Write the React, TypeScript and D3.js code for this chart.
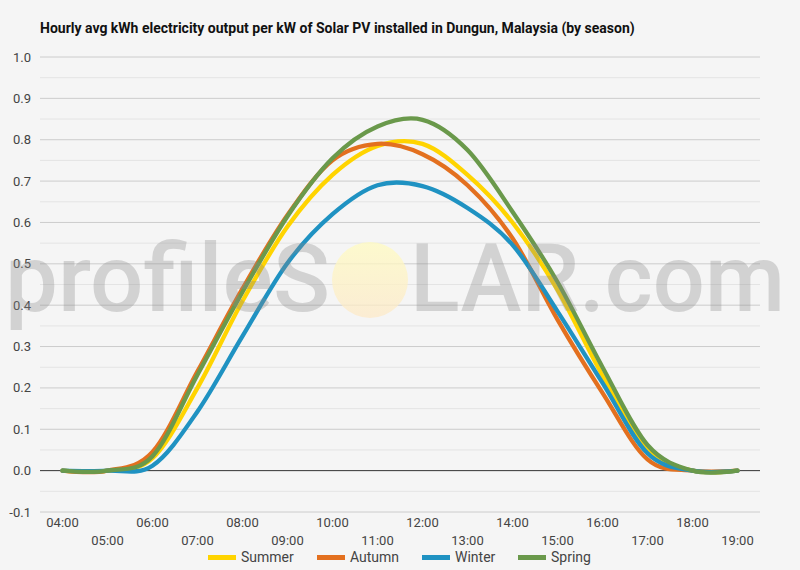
import React from "react";
import * as d3 from "d3";

const hours = ["04:00","05:00","06:00","07:00","08:00","09:00","10:00","11:00","12:00","13:00","14:00","15:00","16:00","17:00","18:00","19:00"];
const summer = [0, 0, 0.03, 0.2, 0.41, 0.59, 0.715, 0.785, 0.79, 0.715, 0.6, 0.437, 0.23, 0.052, 0, 0];
const autumn = [0, 0, 0.045, 0.24, 0.44, 0.618, 0.75, 0.79, 0.765, 0.69, 0.562, 0.365, 0.188, 0.027, 0, 0];
const winter = [0, 0, 0.012, 0.143, 0.325, 0.502, 0.62, 0.69, 0.688, 0.635, 0.546, 0.385, 0.212, 0.042, 0, 0];
const spring = [0, 0, 0.035, 0.232, 0.432, 0.615, 0.755, 0.832, 0.848, 0.775, 0.626, 0.456, 0.25, 0.062, 0, 0];
const seriesNames = ["Summer", "Autumn", "Winter", "Spring"];
const seriesColors = ["#FFD400", "#E3701F", "#1F92C2", "#6A994B"];
const yTicks = [-0.1, 0, 0.1, 0.2, 0.3, 0.4, 0.5, 0.6, 0.7, 0.8, 0.9, 1.0];
const yMinor = [-0.05, 0.05, 0.15, 0.25, 0.35, 0.45, 0.55, 0.65, 0.75, 0.85, 0.95];
const title = "Hourly avg kWh electricity output per kW of Solar PV installed in Dungun, Malaysia (by season)";

const W = 800, H = 570;
const left = 40, right = 760, top = 57, bottom = 512;
const FONT = "Roboto, 'Noto Sans', Arial, sans-serif";

export default function App() {
  const x = d3.scaleBand<string>().domain(hours).range([left, right]);
  const cx = (h: string) => (x(h) as number) + x.bandwidth() / 2;
  const y = d3.scaleLinear().domain([-0.1, 1.0]).range([bottom, top]);
  const data = [summer, autumn, winter, spring];
  const line = d3
    .line<number>()
    .x((_, i) => cx(hours[i]))
    .y((v) => y(v))
    .curve(d3.curveCardinal.tension(0));

  const legendX = [208, 317, 422, 518];

  return (
    <svg
      width={W}
      height={H}
      style={{ position: "absolute", left: 0, top: 0 }}
      fontFamily={FONT}
    >
      <defs>
        <linearGradient id="sun" x1="0" y1="0" x2="0" y2="1">
          <stop offset="0%" stopColor="#fffbc0" />
          <stop offset="100%" stopColor="#fde9c8" />
        </linearGradient>
      </defs>
      <rect x={0} y={0} width={W} height={H} fill="#f5f5f5" />
      <text x={40} y={33} fontSize={14} fontWeight="bold" fill="#111">
        {title}
      </text>
      {yMinor.map((t) => (
        <line key={"m" + t} x1={left} x2={right} y1={y(t)} y2={y(t)} stroke="#e4e4e4" strokeWidth={1} />
      ))}
      {yTicks.map((t) => (
        <line
          key={"g" + t}
          x1={left}
          x2={right}
          y1={y(t)}
          y2={y(t)}
          stroke={t === 0 ? "#333" : "#cccccc"}
          strokeWidth={1}
        />
      ))}
      {yTicks.map((t) => (
        <text
          key={"yl" + t}
          x={31}
          y={y(t)}
          dy="0.35em"
          textAnchor="end"
          fontSize={13}
          fill="#444"
        >
          {t.toFixed(1)}
        </text>
      ))}
      {hours.map((h, i) => (
        <text
          key={"xl" + h}
          x={cx(h)}
          y={i % 2 === 0 ? 527 : 545}
          textAnchor="middle"
          fontSize={13}
          fill="#444"
        >
          {h}
        </text>
      ))}
      {data.map((d, i) => (
        <path
          key={seriesNames[i]}
          d={line(d) || ""}
          fill="none"
          stroke={seriesColors[i]}
          strokeWidth={4.3}
          strokeLinejoin="round"
          strokeLinecap="round"
        />
      ))}
      <circle cx={370} cy={280} r={38} fill="url(#sun)" opacity={0.75} />
      <text
        x={5}
        y={311}
        fontSize={94}
        fontWeight={500}
        fill="#888"
        fillOpacity={0.32}
        textLength={325}
        lengthAdjust="spacingAndGlyphs"
      >
        profileS
      </text>
      <text
        x={410}
        y={311}
        fontSize={94}
        fontWeight={500}
        fill="#888"
        fillOpacity={0.32}
        textLength={375}
        lengthAdjust="spacingAndGlyphs"
      >
        LAR.com
      </text>
      {seriesNames.map((n, i) => (
        <g key={"lg" + n}>
          <rect x={legendX[i]} y={555} width={28} height={5} fill={seriesColors[i]} />
          <text x={legendX[i] + 33} y={562} fontSize={14} fill="#444">
            {n}
          </text>
        </g>
      ))}
    </svg>
  );
}
